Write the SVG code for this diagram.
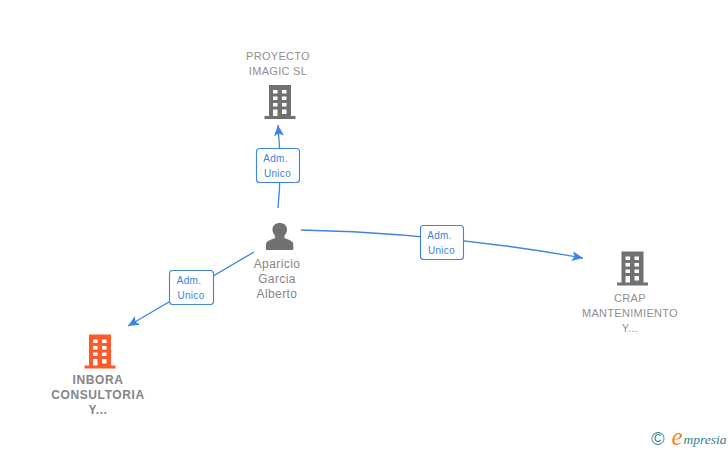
<svg xmlns="http://www.w3.org/2000/svg" width="728" height="450" viewBox="0 0 728 450">
<style>
text{font-family:"Liberation Sans",Arial,sans-serif;text-anchor:middle}
.n{font-size:11px;fill:#8f8f8f;letter-spacing:.3px}
.p{font-size:12px;fill:#868686;letter-spacing:.4px}
.o{font-size:12px;font-weight:bold;fill:#858585;letter-spacing:.6px}
.l{font-size:10px;fill:#3d7fd9;letter-spacing:.3px}
.b{fill:#fff;stroke:#3d85e0;stroke-width:1.1}
.c{fill:none;stroke:#3d85e0;stroke-width:1.3}
.g{fill:#717171}
.r{fill:#ff5a2c}
</style>
<defs>
<marker id="a" viewBox="0 0 12 10" refX="11" refY="5" markerWidth="12" markerHeight="10" markerUnits="userSpaceOnUse" orient="auto"><path d="M0 0L11 5L0 10L2.5 5Z" fill="#3d85e0"/></marker>
<path id="bld" fill-rule="evenodd" d="M4.5 0H26.5V31H31V34H0V31H4.5ZM8.5 5V8.5H13V5ZM17.5 5V8.5H22V5ZM8.500 11.500V15H13V11.500ZM17.500 11.500V15H22V11.500ZM8.500 18V21.500H13V18ZM17.500 18V21.500H22V18ZM8.500 24.500V31H13V24.500ZM17.500 24.500V29H22V24.500Z"/>
</defs>
<g id="connectors">
<path class="c" d="M278 208Q282 170 278 125" marker-end="url(#a)"/>
<path class="c" d="M301 230Q442 233 583 258" marker-end="url(#a)"/>
<path class="c" d="M254 252L128 326" marker-end="url(#a)"/>
</g>
<g id="edge-label-1"><rect class="b" x="256.500" y="148.500" width="43" height="34" rx="3"/><text class="l" x="275.500" y="162">Adm.</text><text class="l" x="277.500" y="177">Unico</text></g>
<g id="edge-label-2"><rect class="b" x="420.500" y="225.500" width="43" height="34" rx="3"/><text class="l" x="439.500" y="239">Adm.</text><text class="l" x="441.500" y="254">Unico</text></g>
<g id="edge-label-3"><rect class="b" x="169.500" y="270.500" width="44" height="34" rx="3"/><text class="l" x="189" y="284">Adm.</text><text class="l" x="191" y="299">Unico</text></g>
<g id="node-proyecto"><text class="n" x="278" y="60">PROYECTO</text><text class="n" x="278" y="75">IMAGIC SL</text><use href="#bld" class="g" x="264.500" y="85"/></g>
<g id="node-aparicio"><path class="g" d="M266 250V244.500C266 241 270 240 274 238.500C275.500 238 275.500 236 274.500 235C273 233 272.500 231.500 272.500 229.500C272.500 225.500 275.500 223 279.700 223C284 223 287 225.500 287 229.500C287 231.500 286.500 233 285 235C284 236 284 238 285.500 238.500C289.500 240 293.300 241 293.300 244.500V250Z"/><text class="p" x="277" y="268">Aparicio</text><text class="p" x="277" y="283">Garcia</text><text class="p" x="277" y="298">Alberto</text></g>
<g id="node-crap"><use href="#bld" class="g" x="617" y="251.500"/><text class="n" x="630" y="302">CRAP</text><text class="n" x="630" y="317">MANTENIMIENTO</text><text class="n" x="630" y="332">Y...</text></g>
<g id="node-inbora"><use href="#bld" class="r" x="84.500" y="334.500"/><text class="o" x="98" y="384">INBORA</text><text class="o" x="98" y="399">CONSULTORIA</text><text class="o" x="98" y="414">Y...</text></g>
<g id="logo"><text x="658" y="445" style="font-size:18px;fill:#3f7f93">©</text><text x="677" y="445" style="font-family:'Liberation Serif',serif;font-style:italic;font-size:25px;fill:#f08a1d">e</text><text x="705" y="444" style="font-family:'Liberation Serif',serif;font-style:italic;font-size:13.500px;fill:#2f7f8f">mpresia</text></g>
</svg>
